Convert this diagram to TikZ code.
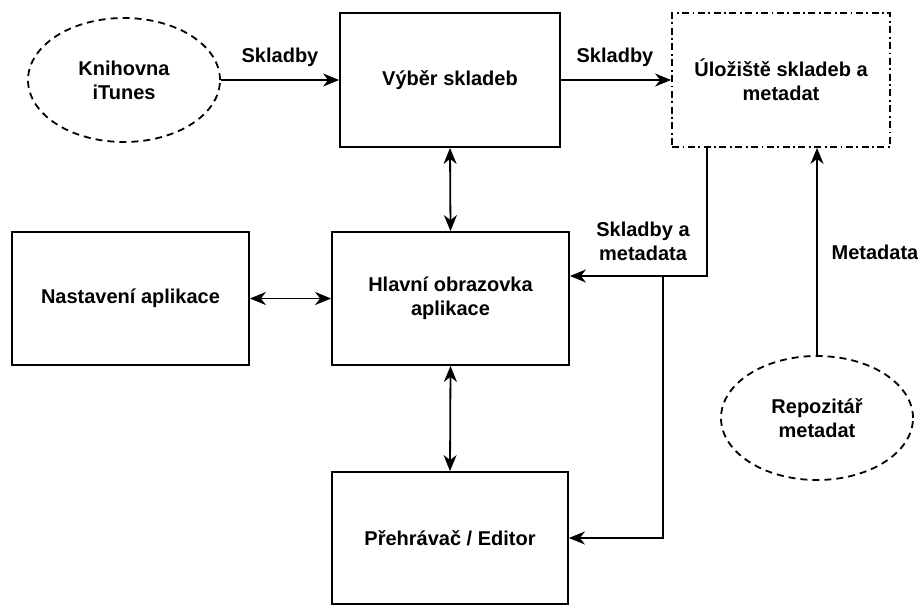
\documentclass[tikz,border=0pt]{standalone}
\usepackage{fontspec}
\setmainfont{Liberation Sans}
\usetikzlibrary{arrows.meta,shapes.geometric}
\begin{document}
\begin{tikzpicture}[x=1pt,y=-1pt,
  every node/.style={font=\fontsize{20}{24}\selectfont\bfseries, align=center, inner sep=0pt},
  block/.style={draw, line width=1.8pt, rectangle, minimum width=#1, minimum height=133pt},
  block/.default=237pt,
  store/.style={draw, line width=1.8pt, rectangle, minimum width=218pt, minimum height=134pt,
    dash pattern=on 7pt off 3.5pt on 1.8pt off 3.5pt},
  source/.style={draw, line width=1.8pt, ellipse, minimum width=192pt, minimum height=124pt,
    dash pattern=on 7pt off 5pt},
  tip/.tip={Stealth[length=16pt,width=13pt,inset=5pt]},
  arr/.style={line width=1.8pt, -tip},
  biarr/.style={line width=1.8pt, tip-tip},
  lbl/.style={fill=none}]
\useasboundingbox (0,0) rectangle (918,605);

% sources
\node[source] (itunes) at (124,80) {Knihovna\\iTunes};
\node[source] (repo) at (817,418) {Repozitář\\metadat};

% application parts
\node[block, minimum width=220pt, minimum height=134pt] (select) at (450,80) {Výběr skladeb};
\node[store] (storage) at (781,80) {Úložiště skladeb a\\metadat};
\node[block] (settings) at (130.5,298.5) {Nastavení aplikace};
\node[block] (main) at (450.5,298.5) {Hlavní obrazovka\\aplikace};
\node[block=236pt, minimum height=132pt] (player) at (450,538) {Přehrávač / Editor};

% data flows
\draw[arr] (itunes.east) -- (select.west);
\node[lbl] (l1) at (280,57) {Skladby};
\draw[arr] (select.east) -- (storage.west);
\node[lbl] (l2) at (615,57) {Skladby};

\draw[biarr] (select.south) -- (main.north);
\draw[biarr] (settings.east) -- (main.west);
\draw[biarr] (main.south) -- (player.north);

\coordinate (bend) at (707,276);
\coordinate (split) at (663,276);
\draw[arr] (bend |- storage.south) -- (bend) -- (split -| main.east);
\draw[arr] (split) |- (player.east);
\node[lbl] (l3) at (643,241) {Skladby a\\metadata};

\draw[arr] (repo.north) -- (repo.north |- storage.south);
\node[lbl] (l4) at (875,252) {Metadata};
\end{tikzpicture}
\end{document}
